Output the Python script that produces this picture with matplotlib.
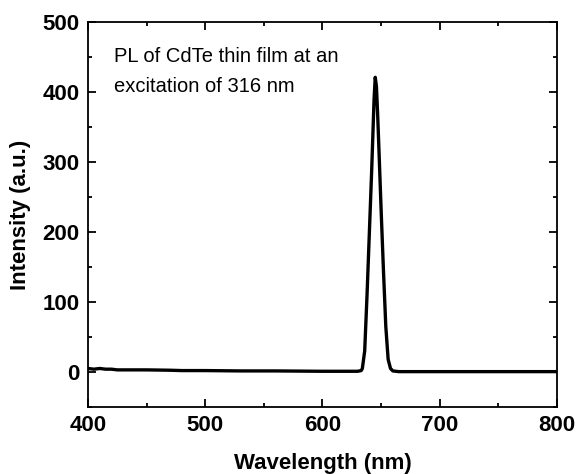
import matplotlib
matplotlib.use("Agg")
import matplotlib.pyplot as plt
from matplotlib.ticker import MultipleLocator

plt.rcParams['font.family'] = ['Liberation Sans', 'DejaVu Sans']

# Data
wavelength = [400, 405, 410, 415, 420, 425, 430, 450, 470, 480, 500, 530, 560,
              600, 620, 630, 633, 634, 636, 638, 640, 642, 643, 644, 645,
              646, 647, 648, 650, 652, 654, 656, 658, 660, 665, 680, 700, 750, 800]
intensity = [5, 4, 5, 4, 4, 3, 3, 3, 2.5, 2, 2, 1.5, 1.5,
             1, 1, 1, 2, 5, 30, 110, 200, 290, 340, 390, 421,
             408, 370, 325, 232, 145, 65, 18, 5, 1.5, 0.5, 0.5, 0.5, 0.5, 0.5]

annotation = "PL of CdTe thin film at an\nexcitation of 316 nm"
x_ticks = [400, 500, 600, 700, 800]
y_ticks = [0, 100, 200, 300, 400, 500]

fig = plt.figure(figsize=(5.77, 4.74), dpi=100)
ax = fig.add_axes([0.1525, 0.1414, 0.8128, 0.8122])
ax.plot(wavelength, intensity, color='black', lw=2.4, solid_joinstyle='round')

ax.set_xlim(400, 800)
ax.set_ylim(-50, 500)
ax.set_xticks(x_ticks)
ax.set_yticks(y_ticks)
ax.xaxis.set_minor_locator(MultipleLocator(50))
ax.yaxis.set_minor_locator(MultipleLocator(50))
ax.tick_params(which='both', direction='in', top=True, right=True, width=1.3)
ax.tick_params(which='major', length=6, labelsize=16, pad=6)
ax.tick_params(which='minor', length=3)
for lab in ax.get_xticklabels() + ax.get_yticklabels():
    lab.set_fontweight('bold')
for s in ax.spines.values():
    s.set_linewidth(1.3)

ax.set_xlabel("Wavelength (nm)", fontsize=16, fontweight='bold', labelpad=12)
ax.set_ylabel("Intensity (a.u.)", fontsize=16, fontweight='bold', labelpad=8)

ax.text(0.055, 0.935, annotation, transform=ax.transAxes, fontsize=14.5,
        va='top', ha='left', linespacing=1.72)

fig.savefig("out.png", dpi=100)
